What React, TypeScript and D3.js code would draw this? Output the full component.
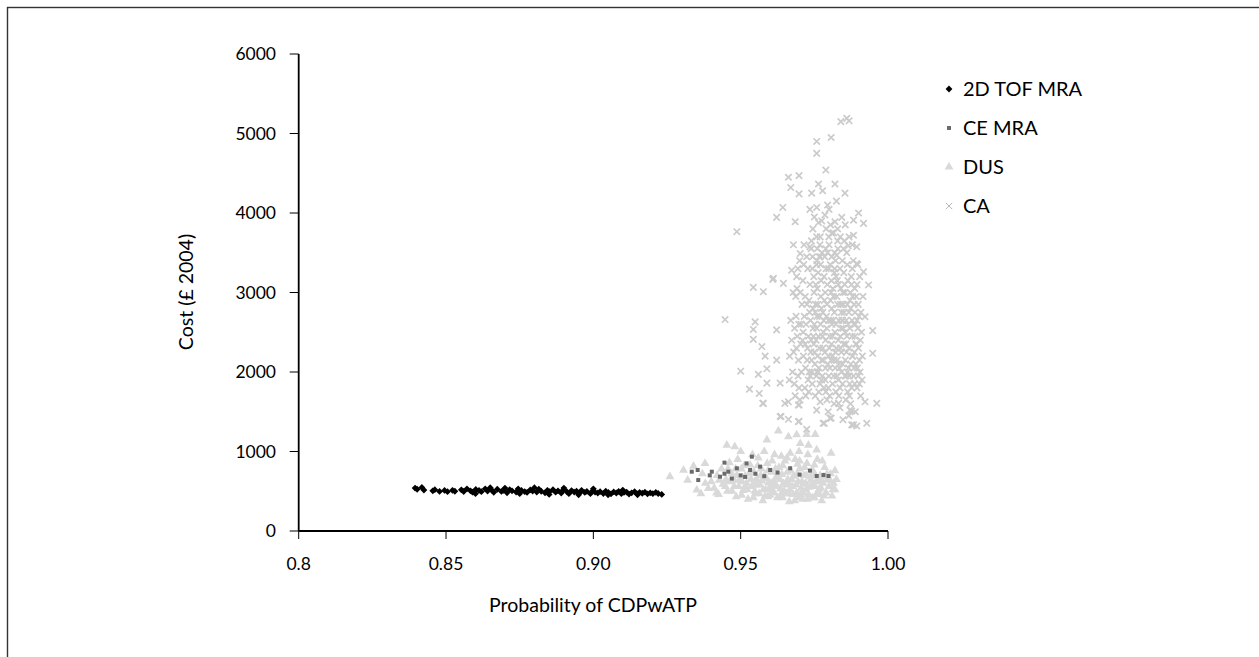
import React from "react";
import * as d3 from "d3";

const xTicks = [0.8, 0.85, 0.9, 0.95, 1.0];
const xTickLabels = ["0.8", "0.85", "0.90", "0.95", "1.00"];
const yTicks = [0, 1000, 2000, 3000, 4000, 5000, 6000];
const seriesNames = ["2D TOF MRA", "CE MRA", "DUS", "CA"];

const tofPoints: [number, number][] = [
  [0.8395, 540], [0.8402, 525], [0.8418, 548], [0.8425, 515], [0.8455, 505], [0.8462, 520], [0.8478, 498], [0.8495, 510],
  [0.8505, 495], [0.8522, 512], [0.853, 500], [0.8552, 518], [0.856, 497], [0.8571, 530], [0.8583, 505], [0.859, 488],
  [0.8601, 522], [0.8612, 510], [0.862, 495], [0.8633, 530], [0.8641, 502], [0.8655, 515], [0.8662, 487], [0.8674, 525],
  [0.8688, 498], [0.8695, 512], [0.8707, 480], [0.8716, 520], [0.8724, 505], [0.8738, 490], [0.8745, 530], [0.8756, 510],
  [0.8767, 495], [0.8775, 485], [0.8786, 518], [0.8794, 502], [0.8808, 490], [0.8815, 525], [0.8823, 500], [0.8836, 480],
  [0.8844, 512], [0.8851, 495], [0.8863, 520], [0.8872, 488], [0.888, 505], [0.8891, 478], [0.8898, 515], [0.891, 495],
  [0.8917, 470], [0.8926, 508], [0.8935, 490], [0.8943, 500], [0.8952, 475], [0.896, 512], [0.8971, 485], [0.8978, 498],
  [0.899, 470], [0.8998, 505], [0.9006, 488], [0.9015, 478], [0.9023, 495], [0.9034, 472], [0.9042, 500], [0.9051, 485],
  [0.906, 468], [0.9069, 492], [0.9078, 478], [0.9086, 498], [0.9095, 470], [0.9104, 485], [0.9113, 490], [0.9121, 465],
  [0.913, 480], [0.914, 495], [0.9148, 470], [0.9157, 485], [0.9166, 475], [0.9175, 488], [0.9184, 468], [0.9193, 480],
  [0.9202, 470], [0.9212, 485], [0.922, 472], [0.9232, 460],
  [0.86, 470], [0.865, 545], [0.87, 540], [0.875, 470], [0.88, 545], [0.885, 460], [0.89, 540], [0.895, 455],
  [0.9, 530], [0.905, 455], [0.91, 515], [0.915, 455],
];

const ceMraPoints: [number, number][] = [
  [0.9334, 746], [0.9354, 767], [0.9356, 641], [0.9402, 746], [0.9395, 700], [0.943, 683], [0.9445, 720], [0.9458, 746],
  [0.947, 660], [0.9487, 789], [0.95, 700], [0.9515, 680], [0.9532, 767], [0.9538, 935], [0.955, 720], [0.9566, 809],
  [0.958, 690], [0.96, 767], [0.9625, 735], [0.9668, 789], [0.97, 710], [0.9735, 760], [0.9758, 692], [0.9781, 704],
  [0.9798, 692], [0.9445, 860], [0.952, 850],
];

const dusPoints: [number, number][] = [
  [0.94, 620], [0.941, 540], [0.942, 700], [0.9425, 460], [0.9435, 780], [0.944, 590], [0.945, 650], [0.9455, 500],
  [0.9462, 860], [0.947, 720], [0.9478, 560], [0.9485, 430], [0.949, 900], [0.9495, 640], [0.9502, 780], [0.9508, 510],
  [0.9515, 690], [0.952, 600], [0.9525, 400], [0.9532, 830], [0.9538, 560], [0.9545, 740], [0.955, 470], [0.9555, 650],
  [0.956, 920], [0.9565, 580], [0.957, 780], [0.9575, 380], [0.958, 690], [0.9585, 520], [0.959, 850], [0.9595, 610],
  [0.96, 450], [0.9605, 740], [0.961, 560], [0.9615, 960], [0.962, 670], [0.9625, 420], [0.963, 800], [0.9635, 530],
  [0.964, 710], [0.9645, 600], [0.965, 880], [0.9655, 470], [0.966, 650], [0.9665, 370], [0.967, 760], [0.9675, 560],
  [0.968, 690], [0.9685, 900], [0.969, 480], [0.9695, 620], [0.97, 780], [0.9705, 540], [0.971, 400], [0.9715, 700],
  [0.972, 600], [0.9725, 850], [0.973, 460], [0.9735, 680], [0.974, 560], [0.9745, 760], [0.975, 420], [0.9755, 620],
  [0.976, 900], [0.9765, 520], [0.977, 700], [0.9775, 380], [0.978, 600], [0.9785, 800], [0.979, 480], [0.9795, 650],
  [0.98, 560], [0.9805, 720], [0.981, 440], [0.9815, 600], [0.982, 520],
  [0.9505, 620], [0.9548, 500], [0.9568, 700], [0.9592, 430], [0.9612, 620], [0.9628, 720], [0.9648, 500], [0.9662, 600],
  [0.9678, 460], [0.9692, 710], [0.9708, 620], [0.9722, 520], [0.9738, 640], [0.9752, 560], [0.9768, 460], [0.9782, 680],
  [0.9598, 540], [0.9618, 780], [0.9642, 420], [0.9658, 740], [0.9688, 580], [0.9712, 480], [0.9742, 700], [0.9772, 620],
  [0.9588, 660], [0.9558, 820], [0.9528, 720], [0.9478, 640], [0.9448, 560], [0.9418, 480], [0.9638, 940], [0.9668, 980],
  [0.9698, 1000], [0.9728, 960], [0.9758, 1020], [0.97, 880], [0.975, 830], [0.958, 1000], [0.954, 960], [0.95, 1000],
  [0.926, 683], [0.9306, 765], [0.934, 815], [0.9351, 515], [0.937, 720], [0.9379, 850], [0.939, 535], [0.9453, 1080],
  [0.948, 1060], [0.9589, 1145], [0.9628, 1260], [0.9662, 1185], [0.969, 1210], [0.9724, 1215], [0.9753, 1215],
  [0.9702, 1100], [0.973, 1080], [0.938, 600], [0.9365, 470], [0.932, 640],
  [0.9462, 620], [0.9471, 500], [0.9483, 780], [0.9493, 560], [0.9503, 450], [0.9512, 820], [0.9522, 520], [0.9535, 650],
  [0.9543, 420], [0.9553, 580], [0.9563, 470], [0.9573, 630], [0.9583, 440], [0.9593, 760], [0.9603, 600], [0.9613, 480],
  [0.9623, 560], [0.9633, 650], [0.9643, 820], [0.9653, 580], [0.9663, 470], [0.9673, 650], [0.9683, 380], [0.9693, 840],
  [0.9703, 460], [0.9713, 590], [0.9723, 700], [0.9733, 550], [0.9743, 420], [0.9753, 700], [0.9763, 640], [0.9773, 540],
  [0.9783, 440], [0.9793, 720], [0.9803, 640], [0.9813, 520], [0.9757, 460], [0.9727, 400], [0.9697, 420], [0.9667, 520],
  [0.9637, 460], [0.9607, 520], [0.9577, 520], [0.9547, 620], [0.9517, 560], [0.9487, 700], [0.9457, 780], [0.9427, 640],
  [0.9607, 880], [0.9657, 920], [0.9717, 800], [0.9777, 880], [0.9807, 980], [0.982, 760], [0.9825, 650],
];

const caPoints: [number, number][] = [
  // outliers and upper tail
  [0.9487, 3765], [0.986, 5190], [0.984, 5150], [0.9868, 5160], [0.9807, 4950], [0.9758, 4900], [0.9758, 4750],
  [0.9789, 4540], [0.9662, 4450], [0.9698, 4470], [0.967, 4320], [0.9764, 4365], [0.982, 4365], [0.9698, 4240],
  [0.9741, 4250], [0.9778, 4280], [0.9854, 4250], [0.9643, 4070], [0.9735, 4045], [0.9758, 4070], [0.98, 4045],
  [0.9622, 3945], [0.9685, 3890], [0.9764, 3880], [0.982, 3890], [0.9843, 3945], [0.9883, 3910], [0.99, 4000],
  [0.9917, 3870], [0.9786, 3975], [0.9809, 3745], [0.9758, 3700], [0.9883, 3720], [0.9679, 3600], [0.9735, 3575],
  [0.9865, 3590], [0.9894, 3575], [0.9702, 3490], [0.977, 3450], [0.9826, 3470], [0.9894, 3365], [0.9917, 3260],
  [0.9673, 3280], [0.9611, 3180],
  // left and right flanks
  [0.9447, 2660], [0.9543, 3065], [0.9609, 3165], [0.9577, 3010], [0.9645, 3115], [0.9549, 2630], [0.9543, 2535],
  [0.9543, 2410], [0.9572, 2320], [0.9583, 2200], [0.95, 2010], [0.956, 1970], [0.9589, 2040], [0.953, 1785],
  [0.9563, 1730], [0.9575, 1605], [0.9589, 1860], [0.9637, 1440], [0.9662, 1405], [0.9698, 1380], [0.9724, 1280],
  [0.9784, 1355], [0.9807, 1420], [0.9877, 1510], [0.9883, 1335], [0.9928, 1355], [0.9962, 1605], [0.9948, 2235],
  [0.9948, 2520], [0.9934, 3095], [0.9922, 2695], [0.9922, 1625], [0.9758, 1520], [0.9698, 1585], [0.9662, 1625],
  [0.9634, 1860], [0.9622, 2150], [0.9622, 2530],
  // lower edge
  [0.9577, 1605], [0.965, 1605], [0.9696, 1585], [0.977, 1625], [0.9832, 1605], [0.9871, 1520], [0.9634, 1440],
  [0.9696, 1375], [0.978, 1355], [0.9803, 1420], [0.9877, 1335], [0.9894, 1320],
  // core
  [0.973, 2450], [0.9745, 2800], [0.9752, 2100], [0.976, 3050], [0.9768, 2300], [0.9775, 1900], [0.9782, 2650],
  [0.979, 3300], [0.9798, 2200], [0.9805, 2900], [0.9812, 1850], [0.982, 2500], [0.9828, 3150], [0.9835, 2050],
  [0.9842, 2750], [0.985, 2350], [0.9858, 1950], [0.9865, 2600], [0.9872, 3000], [0.988, 2200], [0.9888, 2450],
  [0.9895, 1800], [0.9902, 2700], [0.9735, 3100], [0.9742, 2000], [0.975, 2600], [0.9758, 3350], [0.9765, 1750],
  [0.9772, 2950], [0.978, 2150], [0.9788, 2400], [0.9795, 3500], [0.9802, 1700], [0.981, 2600], [0.9818, 3250],
  [0.9825, 2300], [0.9832, 1900], [0.984, 3050], [0.9848, 2550], [0.9855, 2150], [0.9862, 3350], [0.987, 1850],
  [0.9878, 2650], [0.9885, 2050], [0.9892, 2950], [0.99, 2300], [0.968, 2250], [0.9688, 2700], [0.9695, 1950],
  [0.9702, 3000], [0.971, 2400], [0.9718, 1800], [0.9725, 2850], [0.97, 3400], [0.969, 3200], [0.9685, 1700],
  [0.9715, 3600], [0.974, 3650], [0.977, 3700], [0.98, 3600], [0.983, 3550], [0.986, 3500], [0.979, 3800],
  [0.9815, 3750], [0.976, 3550], [0.9845, 3400], [0.9875, 3200], [0.9895, 3100], [0.9905, 2000], [0.991, 2500],
  [0.9912, 1900], [0.9738, 2250], [0.9748, 2350], [0.9758, 2550], [0.9768, 2700], [0.9778, 2450], [0.9788, 2050],
  [0.9798, 2650], [0.9808, 2350], [0.9818, 2750], [0.9828, 2150], [0.9838, 2450], [0.9848, 2850], [0.9858, 2650],
  [0.9868, 2300], [0.9878, 2450], [0.9888, 2750], [0.9898, 2550], [0.9773, 3150], [0.9793, 2850], [0.9813, 3050],
  [0.9833, 2650], [0.9853, 3100], [0.9873, 2800], [0.9893, 2350], [0.9743, 1850], [0.9763, 2000], [0.9783, 1800],
  [0.9803, 2050], [0.9823, 1750], [0.9843, 2000], [0.9863, 1750], [0.9883, 1950], [0.9753, 1700], [0.9793, 1650],
  [0.9833, 1700], [0.9873, 1600], [0.972, 2050], [0.9705, 2600], [0.9728, 3300], [0.9748, 3200], [0.9785, 3450],
  [0.9822, 3400], [0.985, 3250], [0.988, 2950], [0.9908, 2750], [0.9913, 2200], [0.9692, 2450], [0.9676, 2000],
  [0.967, 2650], [0.9678, 3000], [0.9762, 2850], [0.9802, 2450], [0.9842, 2250], [0.9826, 2950], [0.9808, 3150],
  [0.9786, 2250], [0.9756, 2400], [0.9866, 2050], [0.9886, 2250], [0.9846, 1850], [0.9817, 2150], [0.9777, 1950],
  [0.9737, 2650], [0.9713, 2200], [0.9698, 1800],
  [0.9722, 2600], [0.9732, 2900], [0.9741, 2150], [0.9749, 3000], [0.9757, 1950], [0.9764, 2450], [0.9771, 3350],
  [0.9779, 2750], [0.9787, 1900], [0.9794, 3100], [0.9801, 2300], [0.9809, 2800], [0.9816, 1950], [0.9824, 3200],
  [0.9831, 2400], [0.9839, 2850], [0.9846, 2100], [0.9854, 3000], [0.9861, 2450], [0.9869, 1950], [0.9876, 3100],
  [0.9884, 2600], [0.9891, 2100], [0.9899, 2850], [0.9906, 2400], [0.9727, 2300], [0.9736, 1950], [0.9746, 2550],
  [0.9754, 2850], [0.9763, 3250], [0.9771, 2600], [0.9779, 2300], [0.9787, 3000], [0.9796, 2100], [0.9804, 3350],
  [0.9812, 2450], [0.9821, 2050], [0.9829, 2850], [0.9837, 3300], [0.9846, 2650], [0.9854, 1950], [0.9862, 2850],
  [0.9871, 2550], [0.9879, 2200], [0.9887, 3050], [0.9896, 2050], [0.9904, 3200], [0.9716, 2700], [0.9724, 3450],
  [0.9733, 2000], [0.9744, 3450], [0.9753, 2750], [0.9761, 2200], [0.9769, 1850], [0.9776, 3500], [0.9784, 2900],
  [0.9792, 2550], [0.9799, 1950], [0.9807, 3000], [0.9814, 2650], [0.9822, 2250], [0.9829, 3650], [0.9837, 1800],
  [0.9844, 2650], [0.9852, 3650], [0.9859, 2250], [0.9867, 2750], [0.9874, 2100], [0.9882, 3400], [0.9889, 2600],
  [0.9897, 3350], [0.9708, 2850], [0.9719, 2350], [0.9731, 1750], [0.9747, 2450], [0.9759, 2000], [0.9774, 2800],
  [0.9789, 1750], [0.9806, 2650], [0.9819, 3500], [0.9834, 2100], [0.9851, 2750], [0.9864, 3150], [0.9877, 1800],
  [0.9891, 2350], [0.9903, 1850], [0.9915, 2950], [0.9696, 2150], [0.9704, 2350], [0.9711, 3150], [0.9683, 2550],
  [0.9673, 2400], [0.9666, 2200], [0.9687, 2950], [0.9694, 3300], [0.9701, 1650], [0.9665, 1900],
  [0.9745, 3800], [0.9775, 3900], [0.9805, 3850], [0.9838, 3700], [0.9868, 3700], [0.9795, 4100], [0.9825, 4150],
  [0.975, 3950], [0.9855, 3850],
  [0.9726, 2150], [0.9734, 2750], [0.9743, 3300], [0.9751, 2250], [0.9759, 2700], [0.9767, 3450], [0.9775, 2150],
  [0.9783, 3200], [0.9791, 2700], [0.9799, 3300], [0.9807, 2150], [0.9815, 2950], [0.9823, 2600], [0.9831, 3100],
  [0.9839, 2300], [0.9847, 3000], [0.9855, 2500], [0.9863, 2000], [0.9871, 2900], [0.9879, 3300], [0.9887, 1850],
  [0.9895, 2650], [0.9903, 2150], [0.9729, 1900], [0.9739, 2400], [0.9755, 3100], [0.9765, 2050], [0.9781, 2500],
  [0.9797, 1800], [0.9811, 2200], [0.9827, 1950], [0.9841, 2550], [0.9857, 2350], [0.9869, 1700], [0.9885, 2850],
  [0.9899, 1950], [0.9857, 1650], [0.9837, 1550], [0.9817, 1600], [0.9797, 1500], [0.9867, 1450], [0.9847, 1400],
  [0.9907, 1700], [0.9889, 1500], [0.9739, 3550], [0.9769, 3600], [0.9799, 3700], [0.9829, 3800], [0.9819, 3300],
  [0.9789, 3550], [0.9759, 3400], [0.9849, 3550], [0.9879, 3600], [0.9809, 3450], [0.9712, 2500], [0.9719, 2950],
  [0.9706, 2000], [0.9697, 2600], [0.9689, 2300], [0.9682, 1850], [0.9691, 3050], [0.9714, 3350], [0.9721, 1700],
];

const FONT = "Lato, 'Open Sans', sans-serif";
const W = 1259;
const H = 657;

export default function App() {
  const x = d3.scaleLinear().domain([0.8, 1.0]).range([298.7, 888]);
  const y = d3.scaleLinear().domain([0, 6000]).range([531, 54]);
  const dr = 3.4;
  const diamond = `M0,${-dr}L${dr},0L0,${dr}L${-dr},0Z`;
  const square = d3.symbol().type(d3.symbolSquare).size(16)() as string;
  const triangle = d3.symbol().type(d3.symbolTriangle).size(34)() as string;
  const cr = 3.2;
  const crossPath = `M${-cr},${-cr}L${cr},${cr}M${-cr},${cr}L${cr},${-cr}`;

  const colors = ["#000000", "#6a6a6a", "#d9d9d9", "#cbcbcb"];
  const legendY = [89, 128, 167, 206];

  return (
    <svg
      width={W}
      height={H}
      style={{ position: "fixed", left: 0, top: 0, background: "#fff" }}
      fontFamily={FONT}
    >
      <rect x={0} y={0} width={W} height={H} fill="#fff" />
      <rect x={7.5} y={7.5} width={W + 20} height={H + 20} fill="none" stroke="#333" strokeWidth={1.4} />

      <g>
        {tofPoints.map((d, i) => (
          <path key={"t" + i} d={diamond} transform={`translate(${x(d[0])},${y(d[1])})`} fill={colors[0]} />
        ))}
      </g>
      <g>
        {dusPoints.map((d, i) => (
          <path key={"d" + i} d={triangle} transform={`translate(${x(d[0])},${y(d[1])})`} fill={colors[2]} />
        ))}
      </g>
      <g>
        {ceMraPoints.map((d, i) => (
          <path key={"c" + i} d={square} transform={`translate(${x(d[0])},${y(d[1])})`} fill={colors[1]} />
        ))}
      </g>
      <g>
        {caPoints.map((d, i) => (
          <path
            key={"a" + i}
            d={crossPath}
            transform={`translate(${x(d[0])},${y(d[1])})`}
            stroke={colors[3]}
            strokeWidth={1.7}
            fill="none"
          />
        ))}
      </g>

      <line x1={x(0.8)} x2={x(0.8)} y1={y(6000)} y2={y(0)} stroke="#000" strokeWidth={1.8} />
      <line x1={x(0.8)} x2={x(1.0)} y1={y(0)} y2={y(0)} stroke="#000" strokeWidth={1.8} />
      {yTicks.map((t) => (
        <g key={"yt" + t}>
          <line x1={x(0.8) - 9} x2={x(0.8)} y1={y(t)} y2={y(t)} stroke="#000" strokeWidth={1} />
          <text x={276} y={y(t)} dy="0.36em" textAnchor="end" fontSize={17.5} fill="#000">
            {t}
          </text>
        </g>
      ))}
      {xTicks.map((t, i) => (
        <g key={"xt" + t}>
          <line x1={x(t)} x2={x(t)} y1={y(0)} y2={y(0) + 8} stroke="#000" strokeWidth={1} />
          <text x={x(t)} y={570} textAnchor="middle" fontSize={17.5} fill="#000">
            {xTickLabels[i]}
          </text>
        </g>
      ))}
      <text x={593} y={612} textAnchor="middle" fontSize={19.5} fill="#000">
        Probability of CDPwATP
      </text>
      <text transform={`translate(193,292) rotate(-90)`} textAnchor="middle" fontSize={19.5} fill="#000">
        Cost (£ 2004)
      </text>

      {seriesNames.map((name, i) => (
        <g key={"lg" + i} transform={`translate(949,${legendY[i]})`}>
          {i === 0 && <path d={diamond} fill={colors[0]} />}
          {i === 1 && <path d={square} fill={colors[1]} />}
          {i === 2 && <path d={triangle} fill={colors[2]} />}
          {i === 3 && <path d={crossPath} stroke="#b8b8b8" strokeWidth={1} fill="none" />}
          <text x={14} y={0} dy="0.36em" fontSize={20} fill="#000">
            {name}
          </text>
        </g>
      ))}
    </svg>
  );
}
